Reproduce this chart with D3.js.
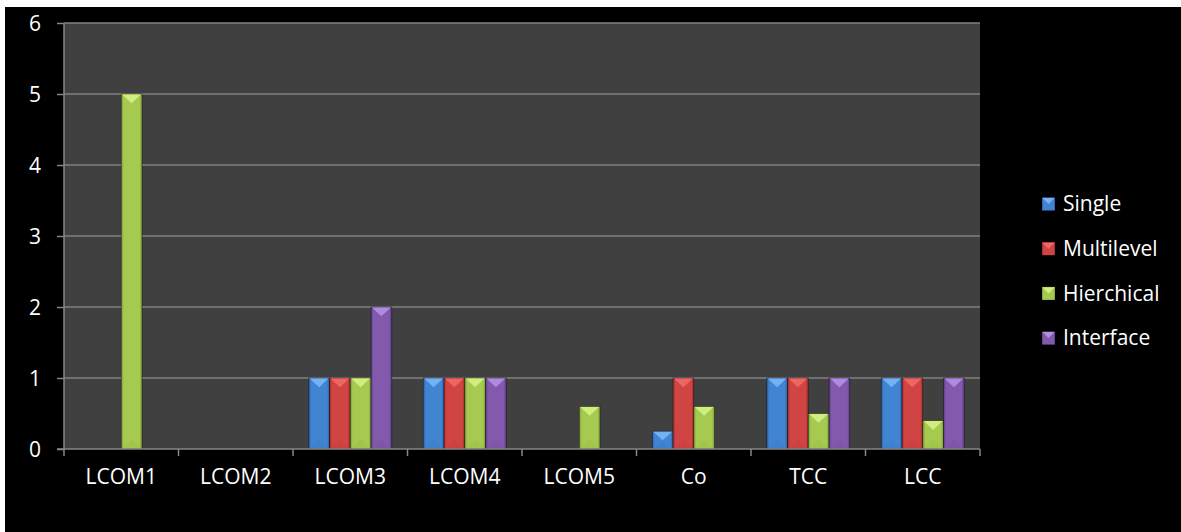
<!DOCTYPE html>
<html><head><meta charset="utf-8">
<script src="https://cdn.jsdelivr.net/npm/d3@7"></script>
<style>html,body{margin:0;padding:0;background:#fff;}svg{display:block;}</style>
</head><body>
<script>
const categories = ["LCOM1","LCOM2","LCOM3","LCOM4","LCOM5","Co","TCC","LCC"];
const seriesNames = ["Single","Multilevel","Hierchical","Interface"];
const single     = [0, 0, 1, 1, 0,   0.25, 1,   1];
const multilevel = [0, 0, 1, 1, 0,   1,    1,   1];
const hierchical = [5, 0, 1, 1, 0.6, 0.6,  0.5, 0.4];
const iface      = [0, 0, 2, 1, 0,   0,    1,   1];
const yTicks = [0,1,2,3,4,5,6];

const seriesValues = [single, multilevel, hierchical, iface];
const colors = {
  Single:     {mid:"#4184d2", edge:"#2b5c9a", top:"#78b4f2", bot:"#3a78c0"},
  Multilevel: {mid:"#d04443", edge:"#962c2b", top:"#ee6866", bot:"#c23c3b"},
  Hierchical: {mid:"#a6c94f", edge:"#7a9a35", top:"#d3ef84", bot:"#98bb45"},
  Interface:  {mid:"#8259ad", edge:"#5a3c7f", top:"#b08ee2", bot:"#7650a0"}
};

const W = 1181, H = 532;
const svg = d3.select("body").append("svg").attr("width", W).attr("height", H);
svg.append("rect").attr("x",5).attr("y",7).attr("width",W-5).attr("height",H-7).attr("fill","#000");

const defs = svg.append("defs");
seriesNames.forEach((s,i)=>{
  const c = colors[s];
  const g = defs.append("linearGradient").attr("id","g"+i).attr("x1","0").attr("x2","1").attr("y1","0").attr("y2","0");
  g.append("stop").attr("offset","0").attr("stop-color",c.edge);
  g.append("stop").attr("offset","0.12").attr("stop-color",c.mid);
  g.append("stop").attr("offset","0.5").attr("stop-color",c.mid);
  g.append("stop").attr("offset","0.88").attr("stop-color",c.mid);
  g.append("stop").attr("offset","1").attr("stop-color",c.edge);
});

const plot = {left:64, right:980, top:23, bottom:449};
const font = "'Open Sans', sans-serif";
const fs = 21;

const x0 = d3.scaleBand().domain(categories).range([plot.left, plot.right]).padding(0);
const bw = x0.bandwidth();
const x1 = d3.scaleBand().domain(seriesNames).range([bw*0.1375, bw*0.8625]).padding(0);
const y = d3.scaleLinear().domain([0,6]).range([plot.bottom, plot.top]);

svg.append("rect").attr("x",plot.left).attr("y",plot.top)
  .attr("width",plot.right-plot.left).attr("height",plot.bottom-plot.top).attr("fill","#404040");

// gridlines
svg.append("g").selectAll("line").data(yTicks.filter(d=>d>0)).join("line")
  .attr("x1",plot.left).attr("x2",plot.right)
  .attr("y1",d=>y(d)).attr("y2",d=>y(d))
  .attr("stroke","#808080").attr("stroke-width",1.5);

// bars
const bars = [];
categories.forEach((c,ci)=>{
  seriesNames.forEach((s,si)=>{
    const v = seriesValues[si][ci];
    if (v > 0) bars.push({c, s, si, v});
  });
});
const gb = svg.append("g");
bars.forEach(d=>{
  const bx = x0(d.c) + x1(d.s), w = x1.bandwidth();
  const top = y(d.v), bot = y(0), h = bot - top;
  const c = colors[d.s];
  gb.append("rect").attr("x",bx).attr("y",top).attr("width",w).attr("height",h)
    .attr("fill","url(#g"+d.si+")").attr("stroke","rgba(0,0,0,0.45)").attr("stroke-width",0.8);
  const tri = Math.min(w*0.45, h*0.5);
  gb.append("path").attr("d",`M${bx+1},${top+0.5}L${bx+w-1},${top+0.5}L${bx+w/2},${top+tri}Z`)
    .attr("fill",c.top).attr("opacity",0.95);
  gb.append("path").attr("d",`M${bx+1},${bot}L${bx+w-1},${bot}L${bx+w/2},${bot-Math.min(tri,h*0.4)}Z`)
    .attr("fill",c.bot).attr("opacity",0.3);
});

// axes
const axisColor = "#868686";
const yAxis = svg.append("g").attr("transform",`translate(${plot.left},0)`)
  .call(d3.axisLeft(y).tickValues(yTicks).tickSize(7).tickPadding(16).tickFormat(d3.format("d")));
yAxis.select(".domain").attr("stroke",axisColor).attr("stroke-width",1.5).attr("d",`M0,${plot.top}V${plot.bottom}`);
yAxis.selectAll(".tick line").attr("stroke",axisColor).attr("stroke-width",1.5);
yAxis.selectAll(".tick text").attr("fill","#fff").attr("font-family",font).attr("font-size",fs).attr("dy","0.35em");

const xAxis = svg.append("g").attr("transform",`translate(0,${plot.bottom})`)
  .call(d3.axisBottom(x0).tickSize(0).tickPadding(20));
xAxis.select(".domain").remove();
xAxis.append("line").attr("x1",plot.left-7).attr("x2",plot.right).attr("y1",0).attr("y2",0)
  .attr("stroke",axisColor).attr("stroke-width",1.5);
const bounds = categories.map(c=>x0(c)).concat([plot.right]);
xAxis.selectAll(".bnd").data(bounds).join("line").attr("class","bnd")
  .attr("x1",d=>d).attr("x2",d=>d).attr("y1",0).attr("y2",7)
  .attr("stroke",axisColor).attr("stroke-width",1.5);
xAxis.selectAll(".tick text").attr("fill","#fff").attr("font-family",font).attr("font-size",fs).attr("dy","0.71em");

// legend
const lg = svg.append("g").attr("transform","translate(1042,0)");
seriesNames.forEach((s,i)=>{
  const cy = 204 + i*44.7;
  const c = colors[s];
  const g = lg.append("g");
  g.append("rect").attr("x",0).attr("y",cy-6.5).attr("width",13).attr("height",13).attr("fill","url(#g"+i+")");
  g.append("path").attr("d",`M0.5,${cy-6}L12.5,${cy-6}L6.5,${cy}Z`).attr("fill",c.top);
  g.append("text").attr("x",21).attr("y",cy).attr("dy","0.35em").attr("fill","#fff")
    .attr("font-family",font).attr("font-size",fs).text(s);
});
</script>
</body></html>
